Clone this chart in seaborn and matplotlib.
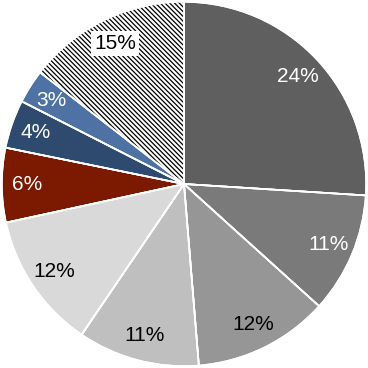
import matplotlib
matplotlib.use("Agg")
import matplotlib.pyplot as plt
import seaborn as sns

# shares measured from the slice angles, labels as printed on the chart
shares = [26.0, 10.7, 12.0, 10.8, 12.1, 6.6, 4.3, 3.0, 14.5]
labels = ["24%", "11%", "12%", "11%", "12%", "6%", "4%", "3%", "15%"]
colors = ["#5f5f5f", "#7a7a7a", "#969696", "#bfbfbf", "#d9d9d9",
          "#7b1a00", "#2f4a6f", "#4f72a5", "#ffffff"]
text_colors = ["white", "white", "black", "black", "black",
               "white", "white", "white", "black"]

sns.set_theme(style="white")
plt.rcParams["font.family"] = ["Liberation Sans", "DejaVu Sans"]
plt.rcParams["hatch.linewidth"] = 0.9

fig = plt.figure(figsize=(3.68, 3.68), dpi=100)
ax = fig.add_axes([0, 0, 1, 1])

wedges, texts = ax.pie(shares, labels=labels, colors=colors, startangle=90,
                       counterclock=False, labeldistance=0.86,
                       wedgeprops=dict(edgecolor="white", linewidth=1.2),
                       textprops=dict(fontsize=15, ha="center", va="center"))

# hatched "other" slice: hatch takes the edge colour, so hide the edge itself
wedges[-1].set_hatch("\\" * 7)
wedges[-1].set_edgecolor("black")
wedges[-1].set_linewidth(0)

# white separators drawn on top
ax.pie(shares, colors=["none"] * len(shares), startangle=90, counterclock=False,
       wedgeprops=dict(edgecolor="white", linewidth=1.2, fill=False))

for t, c in zip(texts, text_colors):
    t.set_color(c)
texts[-1].set_bbox(dict(facecolor="white", edgecolor="none", pad=2))

ax.set_xlim(-1.01, 1.01)
ax.set_ylim(-1.01, 1.01)
ax.set_aspect("equal")
ax.axis("off")

fig.savefig("out.png", dpi=100)
